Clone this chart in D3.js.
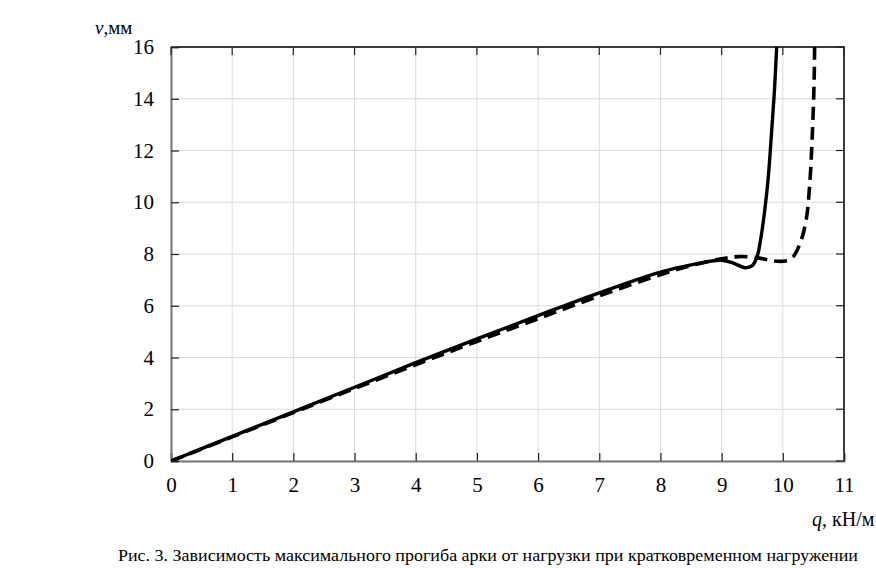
<!DOCTYPE html>
<html>
<head>
<meta charset="utf-8">
<script src="https://cdn.jsdelivr.net/npm/d3@7"></script>
<style>
    body { margin: 0; background: #fff; }
    svg { display: block; }
</style>
</head>
<body>
<svg id="chart" width="876" height="568"></svg>
<script>
// deflection v (mm) vs load q (kN/m)
const qSolid = [0, 1, 2, 3, 4, 5, 6, 7, 8, 8.5, 9, 9.2, 9.38, 9.5, 9.58, 9.64, 9.7, 9.76, 9.81, 9.86, 9.9];
const vSolid = [0, 0.95, 1.9, 2.85, 3.8, 4.72, 5.62, 6.5, 7.3, 7.58, 7.76, 7.64, 7.47, 7.55, 7.9, 8.6, 9.6, 10.9, 12.5, 14.2, 16];

const qDashed = [0, 1, 2, 3, 4, 5, 6, 7, 8, 8.5, 9, 9.3, 9.6, 9.8, 10.0, 10.15, 10.28, 10.38, 10.44, 10.48, 10.51, 10.52];
const vDashed = [0, 0.93, 1.87, 2.8, 3.72, 4.62, 5.5, 6.38, 7.2, 7.55, 7.82, 7.9, 7.85, 7.75, 7.72, 7.85, 8.4, 9.3, 10.7, 12.5, 14.5, 16];

const xTicks = d3.range(0, 12, 1);
const yTicks = d3.range(0, 18, 2);

const FONT = '"Liberation Serif", "Times New Roman", serif';
const margin = {top: 47, right: 32, bottom: 107, left: 171};
const width = 876, height = 568;

const svg = d3.select("#chart");

const x = d3.scaleLinear().domain([0, 11]).range([margin.left, width - margin.right]);
const y = d3.scaleLinear().domain([0, 16]).range([height - margin.bottom, margin.top]);

// grid
svg.append("g")
    .selectAll("line")
    .data(xTicks)
    .join("line")
    .attr("x1", d => x(d)).attr("x2", d => x(d))
    .attr("y1", y(0)).attr("y2", y(16))
    .attr("stroke", "#dcdcdc").attr("stroke-width", 1);

svg.append("g")
    .selectAll("line")
    .data(yTicks)
    .join("line")
    .attr("x1", x(0)).attr("x2", x(11))
    .attr("y1", d => y(d)).attr("y2", d => y(d))
    .attr("stroke", "#dcdcdc").attr("stroke-width", 1);

// frame: top and right black
svg.append("path")
    .attr("d", `M${x(0)},${y(16)}H${x(11)}V${y(0)}`)
    .attr("fill", "none").attr("stroke", "#000").attr("stroke-width", 1.5);

// axes
const xAxis = svg.append("g")
    .attr("transform", `translate(0,${y(0)})`)
    .call(d3.axisBottom(x).tickValues(xTicks).tickSize(-8).tickPadding(16).tickFormat(d3.format("d")));
const yAxis = svg.append("g")
    .attr("transform", `translate(${x(0)},0)`)
    .call(d3.axisLeft(y).tickValues(yTicks).tickSize(-8).tickPadding(17).tickFormat(d3.format("d")));

[xAxis, yAxis].forEach(g => {
    g.attr("font-family", FONT).attr("font-size", 21);
    g.select(".domain").attr("stroke", "#777").attr("stroke-width", 2);
    g.selectAll(".tick line").attr("stroke", "#222").attr("stroke-width", 1.2);
    g.selectAll(".tick text").attr("fill", "#000");
});

// top and right inward ticks
svg.append("g")
    .selectAll("line")
    .data(xTicks)
    .join("line")
    .attr("x1", d => x(d)).attr("x2", d => x(d))
    .attr("y1", y(16)).attr("y2", y(16) + 8)
    .attr("stroke", "#222").attr("stroke-width", 1.2);
svg.append("g")
    .selectAll("line")
    .data(yTicks)
    .join("line")
    .attr("x1", x(11)).attr("x2", x(11) - 8)
    .attr("y1", d => y(d)).attr("y2", d => y(d))
    .attr("stroke", "#222").attr("stroke-width", 1.2);

// curves
svg.append("clipPath").attr("id", "clip")
    .append("rect")
    .attr("x", x(0)).attr("y", y(16))
    .attr("width", x(11) - x(0)).attr("height", y(0) - y(16));

const line = d3.line()
    .x(d => x(d[0]))
    .y(d => y(d[1]))
    .curve(d3.curveCatmullRom.alpha(0.5));

const plot = svg.append("g").attr("clip-path", "url(#clip)");

plot.append("path")
    .datum(d3.zip(qDashed, vDashed))
    .attr("d", line)
    .attr("fill", "none")
    .attr("stroke", "#000")
    .attr("stroke-width", 3.6)
    .attr("stroke-dasharray", "13,7");

plot.append("path")
    .datum(d3.zip(qSolid, vSolid))
    .attr("d", line)
    .attr("fill", "none")
    .attr("stroke", "#000")
    .attr("stroke-width", 3.4);

// axis labels
const yLabel = svg.append("text")
    .attr("x", 95).attr("y", 34)
    .attr("font-family", FONT)
    .attr("font-size", 19);
yLabel.append("tspan").attr("font-style", "italic").text("v");
yLabel.append("tspan").text(",мм");

const xLabel = svg.append("text")
    .attr("x", 812).attr("y", 526)
    .attr("font-family", FONT)
    .attr("font-size", 20);
xLabel.append("tspan").attr("font-style", "italic").text("q");
xLabel.append("tspan").text(", кН/м");

// caption
svg.append("text")
    .attr("x", 118).attr("y", 561)
    .attr("font-family", FONT)
    .attr("font-size", 17.5)
    .attr("textLength", 740)
    .attr("lengthAdjust", "spacingAndGlyphs")
    .text("Рис. 3. Зависимость максимального прогиба арки от нагрузки при кратковременном нагружении");
</script>
</body>
</html>
